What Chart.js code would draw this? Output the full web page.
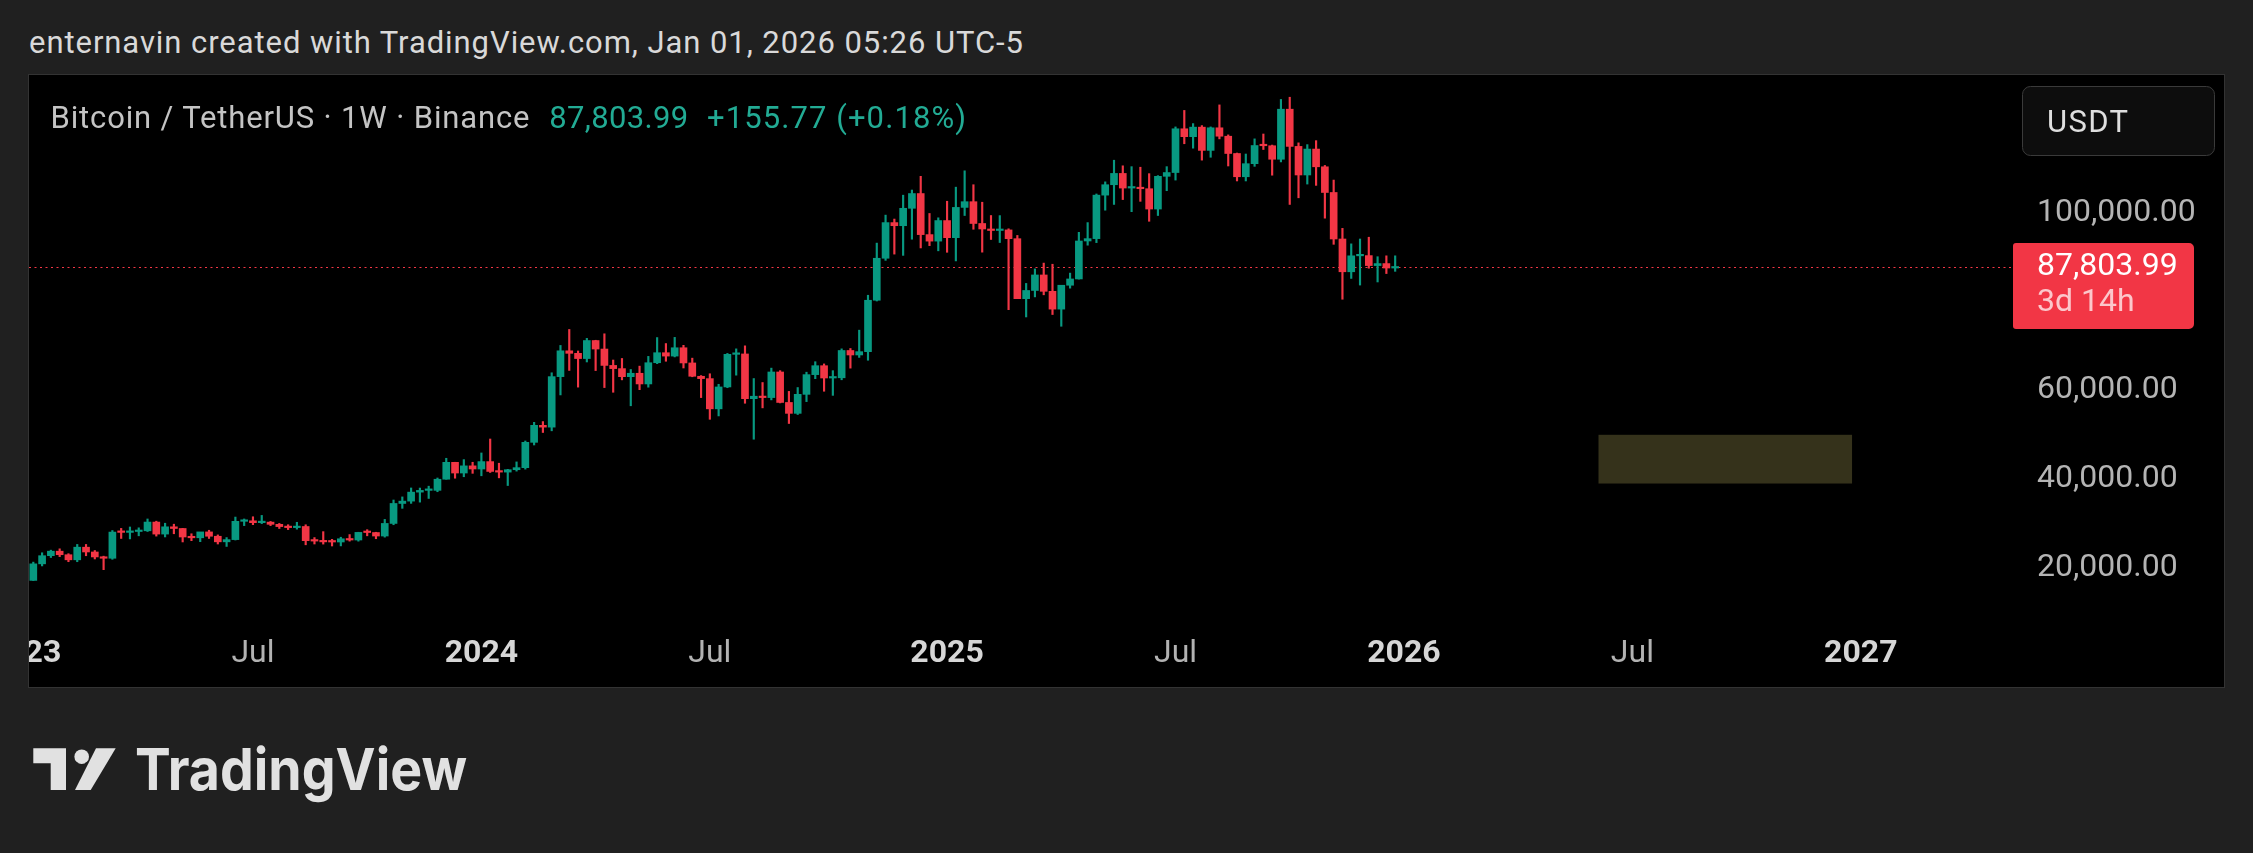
<!DOCTYPE html>
<html>
<head>
<meta charset="utf-8">
<script src="https://cdn.jsdelivr.net/npm/chart.js@4.4.1/dist/chart.umd.min.js"></script>
<style>
  html, body { margin:0; padding:0; width:2253px; height:853px; overflow:hidden; background:#202020; }
  #panel { position:absolute; left:29px; top:75px; width:2195px; height:612px; background:#000; overflow:hidden; outline:1px solid #333; }
  #chart { position:absolute; left:-29px; top:-75px; }
  svg { position:absolute; left:0; top:0; pointer-events:none; }
</style>
</head>
<body>
<svg width="2253" height="853" font-family="Roboto">
  <text x="29" y="53" font-size="31" fill="#d9d9d9" textLength="994" lengthAdjust="spacing">enternavin created with TradingView.com, Jan 01, 2026 05:26 UTC-5</text>
  <g fill="#e1e1e1">
    <path d="M33.3 748.3 H66 V790 H50.7 V763.3 H33.3 Z"/>
    <circle cx="81.7" cy="756.7" r="7.3"/>
    <path d="M96 748.3 H115.7 L90.7 790 H75 Z"/>
    <text x="135" y="790" font-family="Inter" font-weight="700" font-size="58" textLength="332" lengthAdjust="spacingAndGlyphs">TradingView</text>
  </g>
</svg>
<div id="panel"><canvas id="chart" width="2253" height="853"></canvas></div>
<svg width="2253" height="853" font-family="Roboto">
  <text x="50.5" y="128.3" font-size="31" fill="#c4c4c4" textLength="479" lengthAdjust="spacing">Bitcoin / TetherUS · 1W · Binance</text>
  <text x="549.3" y="128.3" font-size="31" fill="#22ab94" textLength="139" lengthAdjust="spacing">87,803.99</text>
  <text x="707" y="128.3" font-size="31" fill="#22ab94" textLength="259" lengthAdjust="spacing">+155.77 (+0.18%)</text>
  <rect x="2022.5" y="86.5" width="192" height="69" rx="8" fill="#0d0d0d" stroke="#3a3a3a"/>
  <text x="2047" y="131.5" font-size="31" fill="#dedede" textLength="81" lengthAdjust="spacing">USDT</text>
</svg>
<script>
// weekly candles BTC/USDT, first bar = week of 2023-01-02
const firstWeek = '2023-01-02';
const opens = [
  16620, 17130, 20870, 22710, 23730, 22930, 21780, 24630, 23550, 22430, 22130, 28040, 27970,
  28170, 28330, 30300, 27590, 29230, 28850, 26930, 26750, 28080, 27100, 25840, 26340, 30470,
  30590, 30170, 30290, 29790, 29280, 29050, 29300, 26100, 26010, 25830, 25800, 26530, 26250,
  27970, 27940, 27150, 29990, 34500, 35030, 37060, 37450, 37460, 39970, 43780, 41370, 42990,
  42280, 43950, 41730, 41580, 42120, 42580, 48300, 52140, 51730, 63130, 68960, 68390, 67210,
  71280, 69360, 65660, 64940, 63120, 63890, 61480, 66270, 68530, 67770, 69650, 66220, 63210,
  62680, 55860, 60800, 68160, 68250, 58160, 58710, 58400, 64180, 57300, 54840, 59130, 63580,
  65600, 62820, 62870, 69030, 68020, 68770, 80370, 89850, 97900, 97200, 101130, 104460, 95190,
  93720, 98360, 94500, 101330, 102620, 97700, 96460, 96120, 96250, 94270, 80730, 82580, 86080,
  82390, 78370, 83760, 85180, 93750, 94280, 104100, 106450, 109000, 105700, 105750, 105550, 100960,
  108350, 109200, 119080, 117300, 119450, 114200, 119300, 117400, 113500, 108250, 111200, 115300, 115250,
  112200, 123500, 115100, 108650, 114500, 110500, 104700, 94200, 86800, 90400, 90450, 88200, 88650,
  87648.22
];
const highs = [
  17180, 21260, 23370, 23960, 24260, 23160, 25250, 25250, 23880, 22600, 28390, 28870, 29190,
  29000, 31000, 30500, 30040, 29820, 28880, 27660, 27500, 28450, 27400, 26800, 31430, 31000,
  31500, 31800, 30440, 29990, 29700, 30250, 29690, 26800, 28140, 26400, 26880, 27480, 28000,
  28580, 28000, 30900, 35280, 35980, 38000, 37980, 38400, 40250, 44700, 43800, 44400, 43800,
  45900, 49050, 43580, 42200, 43880, 48600, 52820, 52985, 64000, 70170, 73780, 68920, 71770,
  71340, 72800, 66880, 67230, 64740, 65500, 67700, 71950, 70600, 71990, 70200, 67300, 63370,
  63780, 61400, 68370, 69400, 70080, 62700, 61800, 65050, 64480, 59800, 60670, 64130, 66500,
  66000, 64480, 69400, 69480, 73620, 81500, 93270, 99590, 98700, 104090, 105250, 108350, 99960,
  98980, 102720, 105900, 109590, 106450, 102500, 99500, 99480, 96500, 95000, 84170, 87450, 88760,
  88500, 83600, 86500, 95700, 97900, 104360, 107100, 111980, 110720, 110530, 110400, 108950, 108500,
  110530, 119500, 123220, 120250, 119800, 119500, 124470, 117700, 113600, 113380, 116800, 117900, 115400,
  125700, 126200, 115900, 115500, 116400, 110800, 107500, 96600, 93100, 94200, 94600, 90200, 90400,
  90400
];
const lows = [
  16500, 17100, 20400, 22300, 22500, 21350, 21350, 22700, 21970, 19550, 21900, 26600, 26500,
  27200, 28170, 27130, 26940, 27660, 25810, 26100, 25870, 26600, 25350, 24800, 26250, 29500,
  29710, 29950, 29500, 28850, 28600, 28700, 25170, 25350, 25330, 24900, 24920, 26000, 25990,
  27200, 26540, 26900, 29700, 33400, 34520, 34800, 35630, 37150, 39970, 40200, 40530, 41300,
  40750, 41500, 40280, 38550, 41800, 42250, 47700, 50520, 50900, 59000, 64530, 60760, 66440,
  64500, 60660, 59600, 62400, 56550, 60190, 60750, 66060, 66600, 67580, 65080, 63100, 58400,
  53500, 54260, 60630, 63460, 57120, 49000, 56080, 57880, 57200, 52550, 54580, 57490, 62670,
  59830, 58900, 62420, 65050, 67470, 66830, 80200, 89380, 90790, 90500, 94150, 92180, 92700,
  91530, 91200, 89250, 99500, 96400, 91230, 94090, 93400, 78250, 81400, 76600, 81130, 81600,
  77150, 74500, 83100, 85150, 92800, 93380, 100700, 102000, 103100, 100370, 102700, 98200, 99500,
  105100, 107500, 115700, 114700, 112000, 112650, 116800, 110680, 107300, 107300, 110600, 114400, 108600,
  111600, 102000, 103500, 106600, 106300, 98900, 93000, 80600, 85300, 83800, 87600, 84500, 86400,
  86900
];
const closes = [
  17130, 20870, 22710, 23730, 22930, 21780, 24630, 23550, 22430, 22130, 28040, 27970, 28170,
  28330, 30300, 27590, 29230, 28850, 26930, 26750, 28080, 27100, 25840, 26340, 30470, 30590,
  30170, 30290, 29790, 29280, 29050, 29300, 26100, 26010, 25830, 25800, 26530, 26250, 27970,
  27940, 27150, 29990, 34500, 35030, 37060, 37450, 37460, 39970, 43780, 41370, 42990, 42280,
  43950, 41730, 41580, 42120, 42580, 48300, 52140, 51730, 63130, 68960, 68390, 67210, 71280,
  69360, 65660, 64940, 63120, 63890, 61480, 66270, 68530, 67770, 69650, 66220, 63210, 62680,
  55860, 60800, 68160, 68250, 58160, 58710, 58400, 64180, 57300, 54840, 59130, 63580, 65600,
  62820, 62870, 69030, 68020, 68770, 80370, 89850, 97900, 97200, 101130, 104460, 95190, 93720,
  98360, 94500, 101330, 102620, 97700, 96460, 96120, 96250, 94270, 80730, 82580, 86080, 82390,
  78370, 83760, 85180, 93750, 94280, 104100, 106450, 109000, 105700, 105750, 105550, 100960, 108350,
  109200, 119080, 117300, 119450, 114200, 119300, 117400, 113500, 108250, 111200, 115300, 115250, 112200,
  123500, 115100, 108650, 114500, 110500, 104700, 94200, 86800, 90400, 90450, 88200, 88650, 87648.22,
  87803.99
];

const lastPrice = 87803.99;
const countdown = '3d 14h';
const yTicks = [20000, 40000, 60000, 100000];
const xTickDates = ['2023-01-02', '2023-07-03', '2024-01-01', '2024-07-01', '2025-01-06', '2025-07-07', '2026-01-05', '2026-07-06', '2027-01-04'];
const xTickLabels = ['2023', 'Jul', '2024', 'Jul', '2025', 'Jul', '2026', 'Jul', '2027'];
// drawn rectangle (time range / price range)
const zoneDates = ['2026-06-09', '2026-12-28'];
const zonePrices = [39000, 50000];

const GREEN = '#089981', RED = '#f23645';
const WEEK = 7 * 864e5;
const weekIndex = d => (Date.parse(d) - Date.parse('2024-01-01')) / WEEK;
const weeks = opens.map((_, i) => new Date(Date.parse(firstWeek) + i * WEEK).toISOString().slice(0, 10));
const xTickWeeks = xTickDates.map(weekIndex);
const fmt = v => v.toLocaleString('en-US', { minimumFractionDigits: 2, maximumFractionDigits: 2 });
const candleColor = c => closes[c.dataIndex] >= opens[c.dataIndex] ? GREEN : RED;

const overlay = {
  id: 'overlay',
  beforeDatasetsDraw(chart) {
    const { ctx, chartArea: a, scales: { x, y } } = chart;
    const zx0 = x.getPixelForValue(weekIndex(zoneDates[0]));
    const zx1 = x.getPixelForValue(weekIndex(zoneDates[1]));
    const zy0 = y.getPixelForValue(zonePrices[1]);
    const zy1 = y.getPixelForValue(zonePrices[0]);
    ctx.save();
    ctx.fillStyle = '#35321b';
    ctx.fillRect(zx0, zy0, zx1 - zx0, zy1 - zy0);
    const py = Math.round(y.getPixelForValue(lastPrice)) + 0.5;
    ctx.strokeStyle = RED;
    ctx.lineWidth = 1.2;
    ctx.setLineDash([2, 3.5]);
    ctx.beginPath();
    ctx.moveTo(a.left, py);
    ctx.lineTo(a.right + 5, py);
    ctx.stroke();
    ctx.restore();
  },
  afterDraw(chart) {
    const { ctx, chartArea: a, scales: { y } } = chart;
    const py = y.getPixelForValue(lastPrice);
    ctx.save();
    ctx.fillStyle = RED;
    ctx.beginPath();
    ctx.roundRect(a.right + 5, py - 24.3, 181, 86, [3, 5, 5, 3]);
    ctx.fill();
    ctx.font = '32px Roboto';
    ctx.textBaseline = 'middle';
    ctx.textAlign = 'left';
    ctx.fillStyle = '#ffffff';
    ctx.fillText(fmt(lastPrice), a.right + 29, py - 0.5);
    ctx.fillStyle = 'rgba(255,255,255,0.72)';
    ctx.fillText(countdown, a.right + 29, py + 36);
    ctx.restore();
  }
};

new Chart(document.getElementById('chart'), {
  type: 'bar',
  data: {
    datasets: [
      {
        label: 'body',
        data: weeks.map((w, i) => ({ x: weekIndex(w), y: [opens[i], closes[i]] })),
        backgroundColor: candleColor,
        barThickness: 7,
        minBarLength: 1.5,
        grouped: false,
        order: 0
      },
      {
        label: 'wick',
        data: weeks.map((w, i) => ({ x: weekIndex(w), y: [lows[i], highs[i]] })),
        backgroundColor: candleColor,
        barThickness: 1.5,
        grouped: false,
        order: 1
      }
    ]
  },
  options: {
    responsive: false,
    animation: false,
    devicePixelRatio: 1,
    layout: { padding: { left: 29, right: 29, top: 76, bottom: 166 } },
    plugins: { legend: { display: false }, tooltip: { enabled: false } },
    scales: {
      x: {
        type: 'linear',
        min: -51.49,
        max: 173.75,
        offset: false,
        grid: { display: false, drawTicks: false },
        border: { display: false },
        afterBuildTicks: s => { s.ticks = xTickWeeks.map(v => ({ value: v })); },
        afterFit: s => { s.height = 67; s.paddingLeft = 0; s.paddingRight = 0; },
        ticks: {
          autoSkip: false,
          maxRotation: 0,
          padding: 15,
          callback: v => { const k = xTickWeeks.indexOf(v); return k < 0 ? '' : xTickLabels[k]; },
          font: c => ({ family: 'Roboto', size: 32, lineHeight: 1.2, weight: /^\d{4}$/.test(xTickLabels[c.index]) ? 'bold' : 'normal' }),
          color: c => /^\d{4}$/.test(xTickLabels[c.index]) ? '#d6d6d6' : '#b2b2b2'
        }
      },
      y: {
        type: 'linear',
        position: 'right',
        min: 8194,
        max: 130993,
        grid: { display: false, drawTicks: false },
        border: { display: false },
        afterBuildTicks: s => { s.ticks = yTicks.map(v => ({ value: v })); },
        afterFit: s => { s.width = 216; s.paddingTop = 0; s.paddingBottom = 0; },
        ticks: {
          padding: 29,
          color: '#b4b4b4',
          font: { family: 'Roboto', size: 32 },
          callback: v => fmt(v)
        }
      }
    }
  },
  plugins: [overlay]
});
</script>
</body>
</html>
